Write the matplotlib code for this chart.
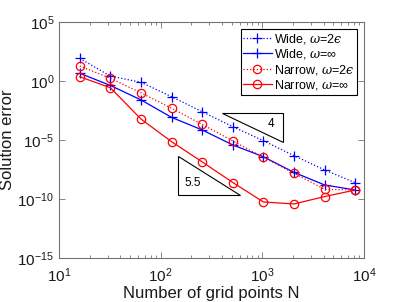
import matplotlib
matplotlib.use("Agg")
import matplotlib.pyplot as plt
from matplotlib.ticker import LogLocator, NullFormatter, NullLocator

plt.rcParams['font.family'] = ['Liberation Sans', 'DejaVu Sans']
plt.rcParams['mathtext.fontset'] = 'custom'
plt.rcParams['mathtext.rm'] = 'Liberation Sans'
plt.rcParams['mathtext.it'] = 'DejaVu Serif:italic'
plt.rcParams['axes.unicode_minus'] = False

N = [16, 32, 64, 128, 256, 512, 1024, 2048, 4096, 8192]
wide_2eps = [83, 2.6, 0.78, 0.047, 2.5e-3, 1.35e-4, 8.7e-6, 4.7e-7, 2.9e-8, 2.4e-9]
wide_inf = [4.5, 0.42, 0.025, 8.3e-4, 7.1e-5, 3.8e-6, 3.8e-7, 1.8e-8, 1.55e-9, 5.8e-10]
narrow_2eps = [18.6, 1.7, 0.10, 4.9e-3, 2.1e-4, 8.3e-6, 3.4e-7, 1.5e-8, 6.6e-10, 5.8e-10]
narrow_inf = [2.3, 0.27, 6.0e-4, 7.2e-6, 1.4e-7, 2.5e-9, 5.6e-11, 3.8e-11, 1.6e-10, 5.8e-10]

labels = ['Wide, $\\omega$=2$\u03f5$', 'Wide, $\\omega$=$\\infty$',
          'Narrow, $\\omega$=2$\u03f5$', 'Narrow, $\\omega$=$\\infty$']

# slope triangles
tri4_x = [398, 1585, 1585]
tri4_y = [1.8e-3, 1.8e-3, 7.2e-6]
tri4_label = '4'
tri4_label_pos = (1216, 2.1e-4)
tri55_x = [149, 149, 603]
tri55_y = [4.4e-7, 2.2e-10, 2.2e-10]
tri55_label = '5.5'
tri55_label_pos = (209, 2.4e-9)

fig = plt.figure(figsize=(4.02, 3.02), dpi=100)
ax = fig.add_axes([59/402, 1-258/302, (364-59)/402, (258-22)/302])

ax.fill(tri4_x, tri4_y, facecolor='white', edgecolor='black', linewidth=0.8, zorder=1)
ax.fill(tri55_x, tri55_y, facecolor='white', edgecolor='black', linewidth=0.8, zorder=1)
ax.text(*tri4_label_pos, tri4_label, fontsize=8.5, ha='center', va='center')
ax.text(*tri55_label_pos, tri55_label, fontsize=8.5, ha='center', va='center')

ms = 6
ax.plot(N, wide_2eps, ':', color='blue', marker='+', ms=ms+1, mew=0.9, lw=0.9, label=labels[0], zorder=3)
ax.plot(N, wide_inf, '-', color='blue', marker='+', ms=ms+1, mew=0.9, lw=0.9, label=labels[1], zorder=3)
ax.plot(N, narrow_2eps, ':', color='red', marker='o', ms=ms, mfc='none', mew=0.9, lw=0.9, label=labels[2], zorder=3)
ax.plot(N, narrow_inf, '-', color='red', marker='o', ms=ms, mfc='none', mew=0.9, lw=0.9, label=labels[3], zorder=3)

ax.set_xscale('log')
ax.set_yscale('log')
ax.set_xlim(10, 1e4)
ax.set_ylim(1e-15, 1e5)
ax.set_yticks([1e-15, 1e-10, 1e-5, 1e0, 1e5])
ax.yaxis.set_minor_locator(NullLocator())
ax.xaxis.set_minor_locator(LogLocator(base=10, subs=tuple(range(2, 10)), numticks=20))
ax.xaxis.set_minor_formatter(NullFormatter())

for s in ax.spines.values():
    s.set_color('0.45')
    s.set_linewidth(0.8)
ax.tick_params(which='both', direction='in', top=True, right=True, colors='0.45',
               labelcolor='0.1', labelsize=11)
ax.tick_params(which='major', length=4, width=0.6)
ax.tick_params(which='minor', length=2.5, width=0.6)
ax.tick_params(axis='x', pad=6)

ax.set_xlabel('Number of grid points N', fontsize=12, color='0.1', labelpad=1)
ax.set_ylabel('Solution error', fontsize=12, color='0.1', labelpad=2)

leg = ax.legend(loc='upper right', bbox_to_anchor=(0.976, 0.969), borderaxespad=0,
                fontsize=9, fancybox=False, framealpha=1, edgecolor='black',
                handlelength=2.3, handletextpad=0.15, labelspacing=0.12,
                borderpad=0.2)
leg.get_frame().set_linewidth(0.8)

fig.savefig('out.png', dpi=100)
